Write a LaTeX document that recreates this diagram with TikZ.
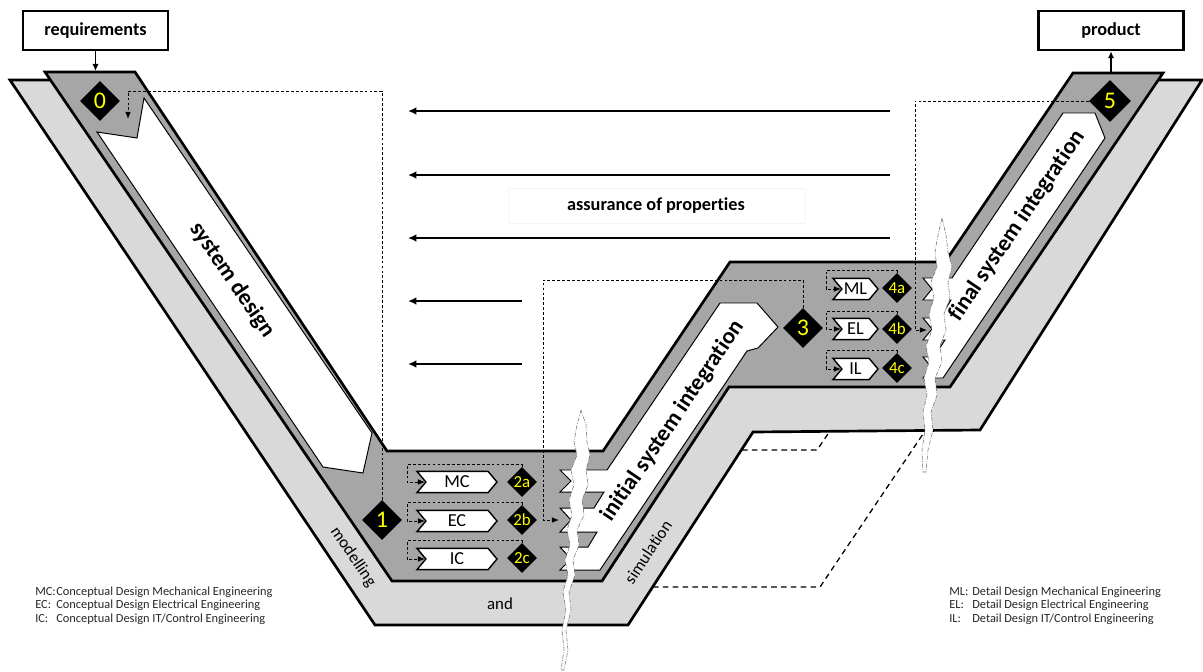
\documentclass[tikz,border=0pt]{standalone}
\usepackage{fontspec}
\setmainfont{Carlito}[Ligatures={NoCommon}]
\usetikzlibrary{shapes.geometric,shapes.symbols,arrows.meta,calc}
\definecolor{darkband}{HTML}{A6A6A6}
\definecolor{lightband}{HTML}{D9D9D9}
\definecolor{numyellow}{HTML}{FFFF00}
\begin{document}
\begin{tikzpicture}[x=0.025cm,y=-0.025cm,
  band/.style={draw=black,line width=1.9pt,line join=miter},
  warrow/.style={fill=white,draw=black,line width=0.7pt,line join=miter},
  dia/.style={diamond,fill=black,text=numyellow,inner sep=0pt,aspect=1,minimum width=1cm,minimum height=1cm,font=\fontsize{17}{17}\selectfont},
  sdia/.style={dia,minimum width=0.75cm,minimum height=0.75cm,font=\fontsize{12}{12}\selectfont},
  chev/.style={signal,signal from=west,signal to=east,signal pointer angle=100,draw=black,fill=white,line width=1pt,inner sep=0pt,minimum height=0.53cm,font=\fontsize{13}{13}\selectfont},
  box/.style={draw=black,fill=white,line width=1.8pt,minimum width=3.62cm,minimum height=0.97cm,inner sep=0pt,font=\bfseries\fontsize{13}{13}\selectfont},
  sloop/.style={dash pattern=on 2pt off 1.5pt,line width=0.6pt,-{Latex[length=5pt,width=4pt]}},
  bloop/.style={dash pattern=on 2pt off 1.5pt,line width=0.6pt,-{Latex[length=5pt,width=4pt]}},
  hidden/.style={dash pattern=on 4pt off 3pt,line width=0.9pt},
  assure/.style={line width=1.4pt,-{Latex[length=6pt,width=5.5pt]}},
  flow/.style={line width=1pt,-{Latex[length=5pt,width=4.5pt]}},
  biglabel/.style={font=\bfseries\fontsize{16.4}{17}\selectfont},
  bandlabel/.style={font=\fontsize{12}{13}\selectfont},
  leg/.style={anchor=base west,inner sep=0pt,text=black!85,font=\fontsize{8.8}{10}\selectfont},
  crack/.style={fill=white,draw=black!55,line width=0.4pt,dash pattern=on 3pt off 1pt on 0.6pt off 1pt}
]
\useasboundingbox (0,0) rectangle (1203,671);

% light band (modelling and simulation)
\fill[lightband] (10,80) -- (375,625) -- (628,625) -- (753,432) -- (980,430) -- (1202,80) -- (1150,80) -- (945,383) -- (727,383) -- (598,578) -- (400,578) -- (55,80) -- cycle;
\draw[band] (10,80) -- (375,625) -- (628,625) -- (753,432) -- (980,430) -- (1202,80) -- (1150,80) -- (945,383) -- (727,383) -- (598,578) -- (400,578) -- (55,80) -- cycle;

% dark band
\draw[band,fill=darkband] (45,72) -- (392,581) -- (602,581) -- (729,387) -- (950,387) -- (1163,73) -- (1073,73) -- (945,262) -- (730,262) -- (603,451) -- (387,451) -- (135,72) -- cycle;

% hidden edges
\coordinate (h1a) at (742,450); \coordinate (h1b) at (817,450); \coordinate (h1c) at (830,431);
\draw[hidden] (h1a) -- (h1b) -- (h1c);
\coordinate (h2a) at (653,587); \coordinate (h2b) at (820,587); \coordinate (h2c) at (925,431);
\draw[hidden] (h2a) -- (h2b) -- (h2c);

% white process arrows
\draw[warrow] (97,132) -- (137,138) -- (144,98) -- (372,433) -- (363,473) -- (323,467) -- cycle;
\draw[warrow] (720,303) -- (757,303) -- (778,327) -- (758,348) -- (747,351) -- (600,570) -- (560,570) -- (571,559) -- (560,547) -- (588,547) -- (597,532) -- (560,532) -- (571,520) -- (560,508) -- (594,508) -- (604,492) -- (560,492) -- (571,481) -- (560,470) -- (607,470) -- cycle;
\draw[warrow] (1063,113) -- (1095,113) -- (1105,138) -- (943,378) -- (923,378) -- (932,368) -- (923,357) -- (934,357) -- (945,340) -- (923,340) -- (932,329) -- (923,318) -- (940,318) -- (951,300) -- (923,300) -- (932,289) -- (923,278) -- (952,278) -- cycle;

% labels on arrows and bands
\node[biglabel,rotate=-55.8] (tsd) at (232,280) {system design};
\node[biglabel,rotate=55.9] (tisi) at (673,421) {initial system integration};
\node[biglabel,rotate=55.9] (tfsi) at (1017,226) {final system integration};
\node[bandlabel,rotate=-55.8] (tmod) at (353,557) {modelling};
\node[bandlabel] (tand) at (500,604) {and};
\node[bandlabel,rotate=56.5] (tsim) at (648,552) {simulation};

% chevrons
\node[chev,minimum width=2cm] (mc) at (457,482) {MC};
\node[chev,minimum width=2cm] (ec) at (457,521) {EC};
\node[chev,minimum width=2cm] (ic) at (457,559) {IC};
\node[chev,minimum width=1.125cm] (ml) at (855.5,289) {ML};
\node[chev,minimum width=1.125cm] (el) at (855.5,329) {EL};
\node[chev,minimum width=1.125cm] (il) at (855.5,369) {IL};

% diamonds
\node[dia] (d0) at (100,101) {0};
\node[dia] (d1) at (382,520) {1};
\node[sdia] (d2a) at (522,482) {2a};
\node[sdia] (d2b) at (522,520) {2b};
\node[sdia] (d2c) at (522,558) {2c};
\node[dia] (d3) at (803,328) {3};
\node[sdia] (d4a) at (897,288) {4a};
\node[sdia] (d4b) at (897,329) {4b};
\node[sdia] (d4c) at (897,368) {4c};
\node[dia,minimum width=1.05cm,minimum height=1.05cm] (d5) at (1110,101) {5};

% small iteration loops
\draw[sloop] (d2a.north) -- ++(0,-2) -| ($(mc.west)+(-18,0)$) -- (mc.west);
\draw[sloop] (d2b.north) -- ++(0,-2) -| ($(ec.west)+(-18,0)$) -- (ec.west);
\draw[sloop] (d2c.north) -- ++(0,-2) -| ($(ic.west)+(-18,0)$) -- (ic.west);
\draw[sloop] (d4a.north) -- ++(0,-2) -| ($(ml.west)+(-15,0)$) -- (ml.west);
\draw[sloop] (d4b.north) -- ++(0,-2) -| ($(el.west)+(-15,0)$) -- (el.west);
\draw[sloop] (d4c.north) -- ++(0,-2) -| ($(il.west)+(-15,0)$) -- (il.west);

% big loops
\coordinate (c0) at (128,91); \coordinate (c0e) at (128,119);
\draw[bloop] (d1.north) |- (c0) -- (c0e);
\coordinate (c3a) at (543,280); \coordinate (c3e) at (559,520);
\draw[bloop] (d3.north) |- (c3a) |- (c3e);
\coordinate (c5a) at (915,330); \coordinate (c5e) at (927,330);
\draw[bloop] (d5.west) -| (c5a) -- (c5e);

% assurance of properties
\draw[draw=black!4,line width=0.5pt] (508,188) rectangle (805,223);
\node[font=\bfseries\fontsize{13}{13}\selectfont] (ap) at (656,206) {assurance of properties};
\coordinate (a1r) at (890,111); \coordinate (a1l) at (408,111);
\coordinate (a2r) at (890,175); \coordinate (a2l) at (408,175);
\coordinate (a3r) at (890,238); \coordinate (a3l) at (408,238);
\coordinate (a4r) at (522,301); \coordinate (a4l) at (408,301);
\coordinate (a5r) at (522,364); \coordinate (a5l) at (408,364);
\draw[assure] (a1r) -- (a1l);
\draw[assure] (a2r) -- (a2l);
\draw[assure] (a3r) -- (a3l);
\draw[assure] (a4r) -- (a4l);
\draw[assure] (a5r) -- (a5l);

% requirements and product
\node[box] (req) at (95.5,30.5) {requirements};
\node[box] (prod) at (1111,30.5) {product};
\coordinate (rq) at (95.5,71);
\coordinate (pd) at (1111,72);
\draw[flow] (req.south) -- (rq);
\draw[flow] (pd) -- (prod.south);

% cracks
\draw[crack] (581,410) -- (577,425) -- (574,442) -- (577,455) -- (571,470) -- (574,485) -- (569,500) -- (572,515) -- (567,530) -- (570,545) -- (565,560) -- (568,575) -- (563,592) -- (566,610) -- (562,630) -- (564,650) -- (561,670) -- (564,670) -- (568,650) -- (566,630) -- (571,610) -- (569,592) -- (575,575) -- (573,560) -- (579,545) -- (577,530) -- (584,515) -- (582,500) -- (588,485) -- (586,470) -- (590,455) -- (587,442) -- (586,425) -- cycle;
\draw[crack] (942,218) -- (938,235) -- (935,252) -- (937,267) -- (931,282) -- (934,298) -- (929,314) -- (932,330) -- (926,346) -- (929,362) -- (924,378) -- (927,395) -- (923,412) -- (925,430) -- (922,450) -- (923,472) -- (926,472) -- (928,450) -- (933,430) -- (931,412) -- (937,395) -- (935,378) -- (942,362) -- (940,346) -- (946,330) -- (944,314) -- (950,298) -- (948,282) -- (952,267) -- (948,252) -- (946,235) -- cycle;

% legends
\node[leg] (lmc) at (35,595) {MC:};
\node[leg] (lmct) at (56,595) {Conceptual Design Mechanical Engineering};
\node[leg] (lec) at (35,608.5) {EC:};
\node[leg] (lect) at (56,608.5) {Conceptual Design Electrical Engineering};
\node[leg] (lic) at (35,622) {IC:};
\node[leg] (lict) at (56,622) {Conceptual Design IT/Control Engineering};
\node[leg] (lml) at (949,595) {ML:};
\node[leg] (lmlt) at (972,595) {Detail Design Mechanical Engineering};
\node[leg] (lel) at (949,608.5) {EL:};
\node[leg] (lelt) at (972,608.5) {Detail Design Electrical Engineering};
\node[leg] (lil) at (949,622) {IL:};
\node[leg] (lilt) at (972,622) {Detail Design IT/Control Engineering};
\end{tikzpicture}
\end{document}
